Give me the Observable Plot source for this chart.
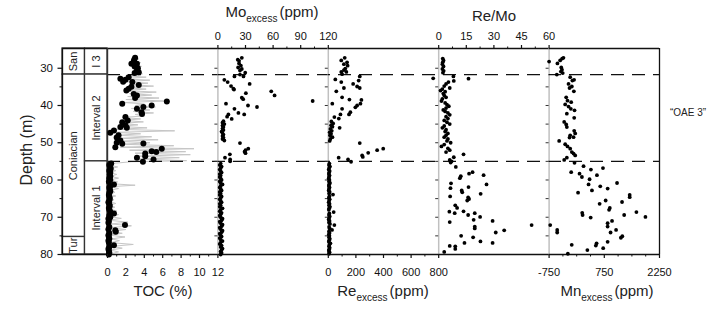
<!DOCTYPE html>
<html><head><meta charset="utf-8">
<script src="https://cdn.jsdelivr.net/npm/d3@7"></script>
<script src="https://cdn.jsdelivr.net/npm/@observablehq/plot@0.6"></script>
<style>
body{margin:0;background:#fff;font-family:"Liberation Sans",Arial,sans-serif;}
#wrap{position:relative;width:724px;height:310px;overflow:hidden;background:#fff}
#wrap svg{position:absolute;left:0;top:0}
.t{position:absolute;color:#222;font-size:15px;white-space:nowrap;line-height:1;transform:translateX(-50%)}
.t sub{font-size:10px;vertical-align:-5px;margin-right:2px}
</style></head><body><div id="wrap"></div><script>
// ---------- data ----------
const depthDomain = [24.7, 80];
const stages = [
  {name: "San", top: 24.7, base: 31.7},
  {name: "Coniacian", top: 31.7, base: 75.3},
  {name: "Tur", top: 75.3, base: 80}
];
const intervals = [
  {name: "I 3", top: 24.7, base: 31.7},
  {name: "Interval 2", top: 31.7, base: 55},
  {name: "Interval 1", top: 55, base: 80}
];
const boundaries = [31.7, 55];
const depthTicks = [30, 40, 50, 60, 70, 80];
const depthMinor = [35, 45, 55, 65, 75];
const edgeTicks = [30, 35, 40, 45, 50, 55, 60, 65, 70, 75];

// TOC high-resolution record [depth, TOC %]
const tocHiRes = [
 [27.0,2.9],[27.5,3.4],[28.0,2.7],[28.5,3.6],[29.0,2.8],[29.5,3.7],[30.0,3.0],[30.5,3.6],[31.0,2.9],[31.5,3.8],
 [32.0,2.0],[32.4,4.2],[32.8,1.5],[33.2,4.6],[33.6,2.0],[34.0,4.4],[34.4,2.5],[34.8,5.0],[35.2,2.0],[35.6,4.2],
 [36.0,1.8],[36.4,5.3],[36.8,2.4],[37.2,4.8],[37.6,2.2],[38.0,5.6],[38.4,2.0],[38.8,6.3],[39.2,1.8],[39.6,4.0],
 [40.0,3.0],[40.4,5.2],[40.8,2.6],[41.2,4.6],[41.6,2.8],[42.0,5.0],[42.4,3.0],[42.8,4.0],[43.2,1.6],[43.6,3.6],
 [44.0,1.8],[44.4,3.9],[44.8,1.5],[45.2,3.3],[45.6,1.2],[46.0,4.3],[46.4,1.0],[46.8,7.3],[47.2,0.8],[47.6,3.6],
 [48.0,1.1],[48.4,4.8],[48.8,1.3],[49.2,5.5],[49.6,1.0],[50.0,4.6],[50.4,1.5],[50.8,7.2],[51.2,1.4],[51.6,9.4],
 [52.0,2.4],[52.4,8.5],[52.8,3.0],[53.2,9.0],[53.6,3.2],[54.0,7.8],[54.4,3.5],[54.8,8.6],[55.1,2.6],
 [55.5,0.8],[56.0,0.2],[56.5,1.1],[57.0,0.3],[57.5,0.9],[58.0,0.2],[58.5,1.0],[59.0,0.3],[59.5,1.2],[60.0,0.2],
 [60.5,1.1],[61.0,0.4],[61.4,3.0],[61.8,0.3],[62.3,1.2],[62.8,0.2],[63.3,0.8],[63.8,0.2],[64.3,0.9],[64.8,0.1],
 [65.3,0.7],[65.8,0.2],[66.3,0.9],[66.8,0.1],[67.3,0.8],[67.8,0.2],[68.3,1.0],[68.8,0.3],[69.3,1.2],[69.8,0.2],
 [70.3,1.5],[70.8,0.1],[71.3,2.2],[71.8,0.4],[72.3,2.6],[72.8,0.2],[73.3,2.0],[73.8,0.3],[74.3,1.6],[74.8,0.2],
 [75.3,1.9],[75.8,0.4],[76.3,1.3],[76.8,0.3],[77.3,2.8],[77.8,0.5],[78.3,1.6],[78.8,0.3],[79.3,1.2],[79.8,0.4]
];
// TOC samples [depth, TOC %]
const tocDots = [
 [27.2,3.0],[27.7,2.9],[28.2,2.85],[28.8,2.6],[28.8,3.2],[29.5,2.95],[30.0,3.3],[30.6,3.2],[31.1,3.4],[31.3,2.95],
 [32.4,2.3],[32.8,1.4],[33.1,1.95],[33.6,1.7],[33.7,2.7],[34.5,3.4],[35.0,2.6],[35.5,2.3],[36.0,2.05],[36.9,2.85],
 [37.3,3.2],[38.0,3.0],[38.9,6.45],[39.5,1.6],[40.0,4.8],[40.4,3.9],[40.9,3.2],[41.8,3.7],[42.3,3.75],[43.1,1.95],
 [44.0,2.2],[44.5,1.6],[45.3,1.95],[45.8,1.4],[46.0,2.1],[46.7,0.7],[47.3,0.3],[48.0,1.2],[48.6,1.0],[49.4,1.4],
 [50.0,1.0],[50.2,3.9],[50.3,1.6],[51.2,0.85],[51.6,5.9],[52.3,4.8],[52.5,5.3],[52.9,4.1],[53.6,4.1],[54.0,3.2],
 [54.5,5.0],[55.1,3.85],
 [55.6,0.4],[56.0,0.2],[56.5,0.3],[57.0,0.35],[57.5,0.2],[58.0,0.3],[58.5,0.25],[59.0,0.3],[59.5,0.2],[60.0,0.3],
 [60.5,0.15],[61.2,0.7],[61.6,0.3],[62.0,0.2],[62.5,0.25],[63.0,0.3],[63.5,0.2],[64.0,0.15],[64.5,0.2],[65.0,0.25],
 [65.5,0.2],[66.0,0.1],[66.5,0.2],[67.0,0.25],[67.5,0.15],[68.0,0.2],[68.5,0.3],[69.0,0.7],[69.5,0.2],[70.0,0.3],
 [70.4,0.1],[71.0,0.15],[71.5,0.1],[72.1,1.9],[72.6,0.2],[73.2,0.1],[73.5,0.85],[73.9,0.9],[74.3,0.2],[74.8,0.1],
 [75.3,0.15],[75.8,0.2],[76.3,0.1],[76.8,0.15],[77.5,0.7],[78.0,0.2],[78.5,0.1],[79.0,0.15],[79.5,0.2],[80.0,0.15]
];
// Mo excess [depth, ppm]
const moDots = [
 [27.2,26],[27.7,21.6],[28.0,23],[28.7,23],[29.3,25],[29.8,22],[30.2,26],[30.6,24],[31.2,29.7],[31.7,24],
 [32.2,27.8],[32.2,18],[33.1,7],[33.7,10.6],[34.2,34.5],[34.8,14.3],[35.5,16.8],[35.7,17.5],[36.2,58],[36.7,30.4],
 [37.3,61.6],[37.9,26],[38.3,27.5],[38.8,103],[39.5,8.8],[40.0,32.7],[40.4,42.5],[40.9,18],[42.0,22.3],[42.4,28.6],
 [42.4,11.4],[43.0,10],[43.6,15],[44.2,6],[44.6,5],[45.0,7],[45.4,5],[45.8,6],[46.2,5],[46.6,6],[47.0,4],[47.4,5],
 [47.8,6],[48.2,5],[48.6,6],[49.0,5],[49.4,7],[50.1,24],[51.6,33],[52.0,30],[52.4,29],[52.8,30],[53.1,13],[54.0,7.7],
 [54.5,13.3],[55.0,13.3],
 [55.6,3],[56.0,2],[56.4,4],[56.8,3],[57.2,2],[57.6,3],[58.0,4],[58.4,2],[58.8,3],[59.2,2],[59.6,3],[60.0,4],[60.4,2],
 [60.8,3],[61.2,5],[61.6,3],[62.0,2],[62.4,3],[62.8,4],[63.2,2],[63.6,3],[64.0,2],[64.4,4],[64.8,3],[65.2,2],[65.6,3],
 [66.0,4],[66.4,2],[66.8,3],[67.2,2],[67.6,5],[68.0,3],[68.4,2],[68.8,4],[69.2,3],[69.6,2],[70.0,3],[70.4,5],[70.8,4],
 [71.2,2],[71.6,3],[72.0,5],[72.4,4],[72.8,2],[73.2,3],[73.6,5],[74.0,4],[74.4,2],[74.8,3],[75.2,4],[75.6,2],[76.0,3],
 [76.4,5],[76.8,3],[77.2,2],[77.6,4],[78.0,3],[78.4,5],[78.8,4],[79.2,3],[79.6,4],[80.0,3]
];
// Re excess [depth, ppm]
const reDots = [
 [27.2,119],[27.9,94],[28.4,136],[28.9,113],[29.3,140],[30.1,123],[30.5,113],[31.0,94],[31.0,131],[31.6,100],
 [32.2,228],[32.7,760],[33.0,51],[33.3,220],[33.7,94],[34.2,180],[34.9,209],[35.3,228],[35.3,113],[36.2,58],
 [37.8,100],[38.4,153],[38.5,240],[39.5,233],[39.5,29],[40.0,209],[40.5,196],[40.9,100],[41.8,160],[42.4,150],
 [42.4,88],[43.1,44],[43.5,76],[44.3,22],[44.8,35],[45.3,20],[45.7,30],[46.0,82],[46.3,15],[46.8,25],[47.2,10],
 [47.6,20],[48.0,12],[48.5,30],[49.0,15],[49.5,10],[50.1,228],[51.6,398],[52.0,354],[52.7,289],[53.4,245],[53.8,250],
 [54.0,75],[54.5,143],[55.1,165],
 [55.6,8],[56.0,5],[56.4,12],[56.8,6],[57.2,3],[57.6,10],[58.0,6],[58.4,4],[58.8,9],[59.2,5],[59.6,3],[60.0,8],
 [60.4,5],[60.8,12],[61.2,6],[61.6,4],[62.0,9],[62.4,5],[62.8,3],[63.2,10],[63.6,6],[63.9,34],[64.4,8],[64.8,4],
 [65.2,10],[65.6,6],[66.0,3],[66.4,9],[66.8,5],[67.2,12],[67.6,6],[68.0,4],[68.6,39],[69.0,8],[69.4,5],[69.8,10],
 [70.2,6],[70.6,3],[71.0,9],[71.4,5],[71.8,12],[72.1,44],[72.6,6],[73.0,10],[73.4,27],[73.8,5],[74.2,9],[74.6,4],
 [75.0,8],[75.4,5],[75.8,11],[76.2,6],[76.6,4],[77.0,15],[77.4,8],[77.8,5],[78.2,10],[78.6,6],[79.0,4],[79.4,9],[79.8,5]
];
// Re/Mo [depth, ratio]
const reMoDots = [
 [27.4,2.2],[27.9,2.6],[28.4,2.2],[28.9,2.0],[29.5,2.6],[30.2,2.0],[30.7,2.7],[31.2,2.3],
 [32.2,8],[32.8,16.2],[33.4,8.2],[33.7,5.3],[34.2,4],[34.8,3],[35.3,6],[35.6,2],[36.0,1],[36.3,3.5],[36.8,2.5],
 [37.3,3],[37.8,4],[38.2,2],[38.8,1.5],[39.3,3.5],[39.8,4.5],[40.2,5.5],[40.7,4],[41.2,2.5],[41.6,3.5],[42.0,5],
 [42.5,6],[43.0,4],[43.5,5],[44.0,3],[44.5,4.5],[45.0,6],[45.5,3],[46.0,2],[46.5,4],[47.0,3.5],[47.5,5],[48.0,4],
 [48.5,3],[49.0,5],[49.5,4.5],[50.0,6.5],[50.5,3],[51.0,1.5],[51.5,5],[52.0,6],[52.5,4],[53.1,13.5],[53.9,8.2],
 [54.6,6],[55.0,7],[55.3,6.5],
 [56.5,9.3],[57.9,18.4],[58.3,16.5],[58.7,24.4],[59.0,12],[59.5,11.5],[60.9,6.7],[61.2,26],[61.9,16.2],[62.2,6.4],
 [62.8,12.5],[63.3,12.8],[63.7,22.8],[64.4,6.2],[64.7,16],[65.1,16.5],[65.5,15.5],[66.8,9],[67.5,10],[68.4,13.5],
 [68.5,5.8],[68.9,8.7],[68.9,19.6],[69.4,16],[69.9,22.5],[70.7,19],[71.0,29.3],[71.3,6],[72.1,50.5],[72.5,19.6],
 [73.0,19.6],[73.5,35.6],[74.1,31],[75.0,12.2],[75.4,18.7],[76.5,22.7],[76.9,14],[76.9,29.3],[77.7,6],[77.8,9],
 [78.5,9],[79.3,3]
];
// Mn excess [depth, ppm]
const mnDots = [
 [27.2,-360],[27.4,-395],[27.9,-450],[28.2,-750],[28.7,-524],[29.8,-420],[30.4,-400],[30.9,-430],[31.3,-380],[31.7,-540],
 [32.4,-177],[33.1,-72],[33.3,-118],[34.2,-222],[34.9,-132],[35.3,-195],[36.2,-77],[37.8,-286],[38.7,-250],[39.1,-150],
 [39.7,-313],[40.3,-222],[40.9,-159],[41.3,-59],[42.2,-268],[43.3,-68],[44.4,-340],[45.1,-286],[45.8,-268],[46.8,-68],
 [47.5,-41],[48.0,-177],[48.5,-86],[48.6,-195],[49.5,-477],[50.4,-313],[51.0,-250],[51.6,-177],[52.5,-132],[52.9,-86],
 [53.4,-41],[54.0,-268],[54.6,-340],[55.4,-59],
 [56.3,186],[56.8,714],[57.2,386],[57.9,-150],[58.3,77],[58.7,550],[59.2,142],[59.8,350],[60.8,1096],[61.2,323],
 [61.7,640],[62.3,841],[62.8,414],[63.4,37],[64.0,1440],[64.6,1440],[65.5,787],[65.9,1232],[66.4,623],[67.5,900],
 [68.0,880],[68.6,1623],[68.8,150],[69.4,160],[69.4,1290],[69.9,1868],[70.1,380],[71.0,960],[71.6,840],[72.1,-720],
 [72.5,840],[73.4,-530],[73.4,1070],[74.1,-530],[74.1,920],[75.1,1240],[75.5,1200],[76.6,840],[77.0,540],[77.4,-135],
 [77.6,520],[78.3,720],[78.8,290],[79.8,-240]
];
// axes ticks
const tocTicks = [0, 2, 4, 6, 8, 10, 12], tocMinor = [1, 3, 5, 7, 9, 11];
const moTicks = [0, 30, 60, 90, 120], moMinor = [15, 45, 75, 105];
const reTicks = [0, 200, 400, 600, 800], reMinor = [100, 300, 500, 700];
const reMoTicks = [0, 15, 30, 45, 60], reMoMinor = [7.5, 22.5, 37.5, 52.5];
const mnTicks = [-750, 750, 2250], mnMinor = [-375, 0, 375, 1125, 1500, 1875];

// ---------- layout ----------
const W = 724, H = 310, MT = 48, MB = 56;
const edges = [62, 107, 217.4, 327.8, 438.2, 548.6, 659];
const DASH_PERIOD = 21;
const font = "'Liberation Sans', Arial, sans-serif";
const wrap = document.getElementById("wrap");

function base(left, right, xdomain, marks) {
  return Plot.plot({
    width: W, height: H, marginTop: MT, marginBottom: MB,
    marginLeft: left, marginRight: W - right,
    x: {domain: xdomain, axis: null},
    y: {domain: depthDomain, reverse: true, axis: null},
    style: {background: "transparent", fontFamily: font, fontSize: "11px", color: "#111", overflow: "visible"},
    marks
  });
}
const X = d => d[1], Yd = d => d[0];

function frameMarks(left) {
  return [
    Plot.ruleY(boundaries, {stroke: "#111", strokeWidth: 1.4, strokeDasharray: "13,8",
      strokeDashoffset: (left - edges[1]) % DASH_PERIOD}),
    Plot.ruleY(depthDomain, {stroke: "#111", strokeWidth: 1.3})
  ];
}
function edgeAxis() {
  return Plot.axisY({anchor: "left", ticks: edgeTicks, tickSize: 3, tickFormat: () => "", label: null, stroke: "#333"});
}
function xAxis(anchor, ticks, minor, fmt) {
  const pad = anchor === "bottom" ? 10 : 5;
  return [
    Plot.axisX({anchor, ticks, tickSize: 4, tickPadding: pad, tickFormat: fmt, label: null, strokeWidth: 1.2}),
    Plot.axisX({anchor, ticks: minor, tickSize: 2.5, tickFormat: () => "", label: null})
  ];
}

// strat column + depth axis
wrap.appendChild(base(edges[0], edges[1], [0, 2], [
  Plot.rect(stages, {x1: 0, x2: 1, y1: "top", y2: "base", fill: "white", stroke: "#333", strokeWidth: 1.3}),
  Plot.rect(intervals, {x1: 1, x2: 2, y1: "top", y2: "base", fill: "white", stroke: "#333", strokeWidth: 1.3}),
  Plot.text(stages, {x: 0.5, y: d => (d.top + d.base) / 2, text: "name", rotate: -90, fontSize: 11, fill: "#222"}),
  Plot.text(intervals, {x: 1.5, y: d => (d.top + d.base) / 2, text: "name", rotate: -90, fontSize: 11, fill: "#222"}),
  Plot.ruleY(depthDomain, {stroke: "#111", strokeWidth: 1.3}),
  Plot.ruleX([0], {stroke: "#111", strokeWidth: 1.3}),
  Plot.axisY({anchor: "left", ticks: depthTicks, tickSize: 4.5, tickPadding: 5, label: null, fontSize: 11.5, strokeWidth: 1.2}),
  Plot.axisY({anchor: "left", ticks: depthMinor, tickSize: 2.5, tickFormat: () => "", label: null})
]));

// TOC
wrap.appendChild(base(edges[1], edges[2], [0, 12], [
  Plot.line(tocHiRes, {x: X, y: Yd, stroke: "#c6c6c6", strokeWidth: 1}),
  ...frameMarks(edges[1]),
  Plot.ruleX([0], {stroke: "#333", strokeWidth: 1.4}),
  Plot.dot(tocDots, {x: X, y: Yd, r: 3, fill: "#000"}),
  ...xAxis("bottom", tocTicks, tocMinor, d => String(d))
]));

// Mo
wrap.appendChild(base(edges[2], edges[3], [0, 120], [
  Plot.ruleX([0], {stroke: "#c0c0c0", strokeWidth: 1.5}),
  ...frameMarks(edges[2]),
  edgeAxis(),
  Plot.dot(moDots, {x: X, y: Yd, r: 1.9, fill: "#000"}),
  ...xAxis("top", moTicks, moMinor, d => String(d))
]));

// Re
wrap.appendChild(base(edges[3], edges[4], [0, 800], [
  Plot.ruleX([0], {stroke: "#c0c0c0", strokeWidth: 1.5}),
  ...frameMarks(edges[3]),
  edgeAxis(),
  Plot.dot(reDots, {x: X, y: Yd, r: 1.9, fill: "#000"}),
  ...xAxis("bottom", reTicks, reMinor, d => String(d))
]));

// Re/Mo
wrap.appendChild(base(edges[4], edges[5], [0, 60], [
  Plot.ruleX([0], {stroke: "#c0c0c0", strokeWidth: 1.5}),
  ...frameMarks(edges[4]),
  edgeAxis(),
  Plot.dot(reMoDots, {x: X, y: Yd, r: 1.9, fill: "#000"}),
  ...xAxis("top", reMoTicks, reMoMinor, d => String(d))
]));

// Mn
wrap.appendChild(base(edges[5], edges[6], [-750, 2250], [
  Plot.ruleX([-750], {stroke: "#c0c0c0", strokeWidth: 1.5}),
  Plot.ruleX([2250], {stroke: "#111", strokeWidth: 1.3}),
  ...frameMarks(edges[5]),
  edgeAxis(),
  Plot.dot(mnDots, {x: X, y: Yd, r: 1.9, fill: "#000"}),
  ...xAxis("bottom", mnTicks, mnMinor, d => String(d))
]));

// ---------- titles ----------
const titles = [
  {html: "Mo<sub>excess</sub>(ppm)", x: 272, y: 4},
  {html: "Re/Mo", x: 494, y: 8},
  {html: "TOC (%)", x: 163, y: 283},
  {html: "Re<sub>excess</sub>(ppm)", x: 383, y: 283},
  {html: "Mn<sub>excess</sub>(ppm)", x: 607, y: 283},
  {html: "\u201COAE 3\u201D", x: 688, y: 108, size: 10}
];
for (const t of titles) {
  const el = document.createElement("div");
  el.className = "t";
  el.innerHTML = t.html;
  el.style.left = t.x + "px";
  el.style.top = t.y + "px";
  if (t.size) el.style.fontSize = t.size + "px";
  wrap.appendChild(el);
}
const dl = document.createElement("div");
dl.className = "t";
dl.textContent = "Depth (m)";
dl.style.fontSize = "16px";
dl.style.left = "27px";
dl.style.top = "150px";
dl.style.transform = "translate(-50%,-50%) rotate(-90deg)";
wrap.appendChild(dl);
</script></body></html>
